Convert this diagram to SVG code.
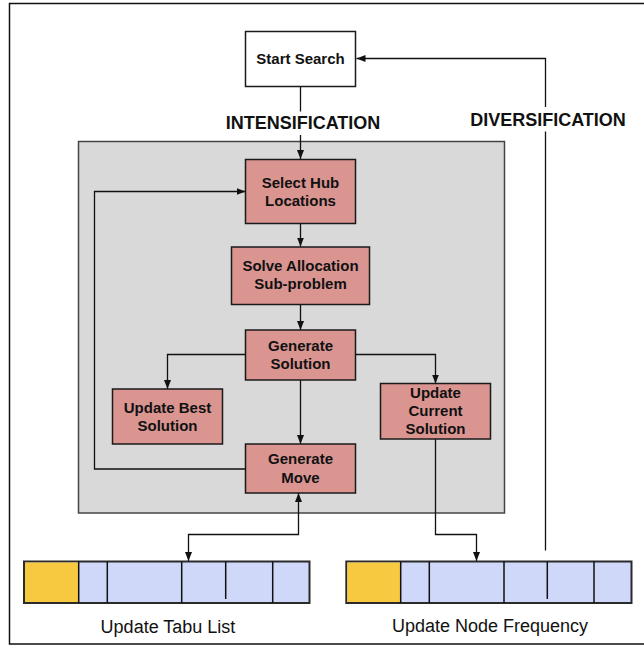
<svg xmlns="http://www.w3.org/2000/svg" width="644" height="645" viewBox="0 0 644 645">
<style>
.box{stroke:#1a1a1a;stroke-width:1.5}
.pink{fill:#DA9591}
.t{font-family:"Liberation Sans",Arial,sans-serif;font-weight:bold;font-size:15px;fill:#111;text-anchor:middle}
.big{font-family:"Liberation Sans",Arial,sans-serif;font-weight:bold;font-size:18px;fill:#111;text-anchor:middle}
.lab{font-family:"Liberation Sans",Arial,sans-serif;font-size:18px;fill:#111;text-anchor:middle}
.c{fill:none;stroke:#111;stroke-width:1.3}
.arr{fill:#D0D8FA;stroke:#2a2a2a;stroke-width:2}
.cell{stroke:#111;stroke-width:1.5}
</style>
<defs>
<marker id="ah" markerUnits="userSpaceOnUse" markerWidth="10" markerHeight="8" refX="9" refY="4" orient="auto-start-reverse">
<path d="M0,0.5 L9,4 L0,7.5 z" fill="#111"/>
</marker>
</defs>
<rect width="644" height="645" fill="#fff"/>
<path d="M644,3.5 H9.5 V644 H644" fill="none" stroke="#111" stroke-width="1.5"/>
<rect id="phase" x="78.5" y="141.5" width="426" height="371.5" fill="#D9D9D9" stroke="#444" stroke-width="1.5"/>
<text class="big" x="303" y="129">INTENSIFICATION</text>
<text class="big" x="548" y="126">DIVERSIFICATION</text>
<g id="connectors">
<path class="c" d="M300.5,86.5 V111.5 M300.5,135 V159" marker-end="url(#ah)"/>
<path class="c" d="M545.5,550.5 V131.5 M545.5,107 V58.5 H356.5" marker-end="url(#ah)"/>
<path class="c" d="M300.5,223.5 V246.5" marker-end="url(#ah)"/>
<path class="c" d="M300.5,304.5 V330" marker-end="url(#ah)"/>
<path class="c" d="M245.5,354.5 H167.5 V389" marker-end="url(#ah)"/>
<path class="c" d="M355.5,354.5 H435.5 V383.5" marker-end="url(#ah)"/>
<path class="c" d="M300.5,380 V444" marker-end="url(#ah)"/>
<path class="c" d="M245.5,469 H94.5 V191.5 H245.5" marker-end="url(#ah)"/>
<path class="c" d="M188.5,561 V534.5 H298.5 V493" marker-start="url(#ah)" marker-end="url(#ah)"/>
<path class="c" d="M435.5,439 V534.5 H476.5 V561" marker-end="url(#ah)"/>
</g>
<g id="start-search">
<rect class="box" x="245.5" y="31.5" width="110" height="55" fill="#fff"/>
<text class="t" x="300.5" y="64">Start Search</text>
</g>
<g id="select-hub">
<rect class="box pink" x="245.5" y="159.5" width="110" height="64"/>
<text class="t" x="300.5" y="188">Select Hub</text>
<text class="t" x="300.5" y="206">Locations</text>
</g>
<g id="solve-allocation">
<rect class="box pink" x="231.5" y="247" width="138" height="57.5"/>
<text class="t" x="300.5" y="271">Solve Allocation</text>
<text class="t" x="300.5" y="289">Sub-problem</text>
</g>
<g id="generate-solution">
<rect class="box pink" x="245.5" y="330" width="110" height="50"/>
<text class="t" x="300.5" y="350.5">Generate</text>
<text class="t" x="300.5" y="368.5">Solution</text>
</g>
<g id="update-best">
<rect class="box pink" x="112.5" y="389" width="110" height="55"/>
<text class="t" x="167.5" y="412.5">Update Best</text>
<text class="t" x="167.5" y="430.5">Solution</text>
</g>
<g id="update-current">
<rect class="box pink" x="380.5" y="383.5" width="110" height="55.5"/>
<text class="t" x="435.5" y="397.5">Update</text>
<text class="t" x="435.5" y="415.5">Current</text>
<text class="t" x="435.5" y="434">Solution</text>
</g>
<g id="generate-move">
<rect class="box pink" x="245.5" y="444" width="110" height="49"/>
<text class="t" x="300.5" y="464">Generate</text>
<text class="t" x="300.5" y="482.5">Move</text>
</g>
<g id="tabu-list">
<rect class="arr" x="24" y="561.5" width="285.5" height="41.5"/>
<rect x="25" y="562.5" width="53.7" height="39.5" fill="#F6C940"/>
<path class="cell" d="M78.7,561.5 V603 M107.3,561.5 V603 M181.7,561.5 V603 M225.7,561.5 V599 M272.7,561.5 V603"/>
<text class="lab" x="168" y="632.5">Update Tabu List</text>
</g>
<g id="node-frequency">
<rect class="arr" x="346.3" y="561.5" width="285.2" height="41.5"/>
<rect x="347.3" y="562.5" width="53.4" height="39.5" fill="#F6C940"/>
<path class="cell" d="M400.7,561.5 V603 M429.3,561.5 V603 M504,561.5 V603 M547.3,561.5 V599 M594,561.5 V603"/>
<text class="lab" x="490" y="632">Update Node Frequency</text>
</g>
</svg>
